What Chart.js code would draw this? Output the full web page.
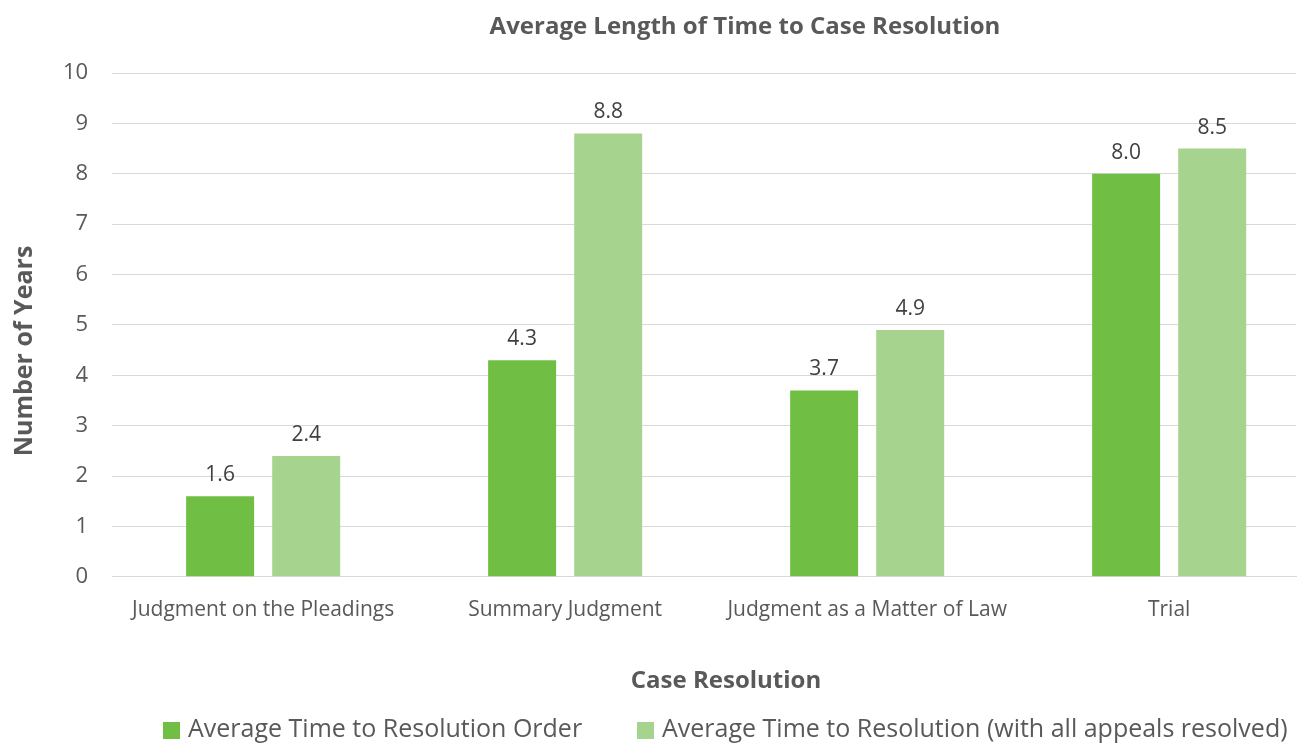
<!DOCTYPE html>
<html>
<head>
<meta charset="utf-8">
<script src="https://cdn.jsdelivr.net/npm/chart.js@4"></script>
<style>
  html, body { margin: 0; padding: 0; background: #fff; }
  #wrap { width: 1312px; height: 744px; }
</style>
</head>
<body>
<div id="wrap"><canvas id="c" width="1312" height="744"></canvas></div>
<script>
const categories = ["Judgment on the Pleadings", "Summary Judgment", "Judgment as a Matter of Law", "Trial"];
const resolutionOrder = [1.6, 4.3, 3.7, 8.0];
const withAppeals = [2.4, 8.8, 4.9, 8.5];
const seriesNames = ["Average Time to Resolution Order", "Average Time to Resolution (with all appeals resolved)"];
const yTicks = [0, 1, 2, 3, 4, 5, 6, 7, 8, 9, 10];
const chartTitle = "Average Length of Time to Case Resolution";
const xTitle = "Case Resolution";
const yTitle = "Number of Years";

const FONT = "'Open Sans', 'Liberation Sans', sans-serif";
const TEXT = "#595959";
const COLORS = ['#70BF44', '#A6D48E'];

const labelPlugin = {
  id: 'barLabels',
  afterDatasetsDraw(chart) {
    const ctx = chart.ctx;
    ctx.save();
    ctx.font = "21px " + FONT;
    ctx.fillStyle = "#404040";
    ctx.textAlign = "center";
    ctx.textBaseline = "middle";
    chart.data.datasets.forEach((ds, i) => {
      chart.getDatasetMeta(i).data.forEach((bar, j) => {
        ctx.fillText(ds.data[j].y.toFixed(1), bar.x, bar.y - 21);
      });
    });
    ctx.restore();
  }
};

const textPlugin = {
  id: 'texts',
  afterDraw(chart) {
    const ctx = chart.ctx;
    ctx.save();
    ctx.fillStyle = TEXT;
    ctx.textBaseline = "middle";
    ctx.textAlign = "center";
    ctx.font = "bold 24px " + FONT;
    ctx.fillText(chartTitle, 745, 27);
    ctx.fillText(xTitle, 726, 681);
    ctx.save();
    ctx.translate(25, 351);
    ctx.rotate(-Math.PI / 2);
    ctx.font = "bold 25px " + FONT;
    ctx.fillText(yTitle, 0, 0);
    ctx.restore();
    ctx.textAlign = "left";
    ctx.font = "25px " + FONT;
    const items = [{ box: 163, text: 188 }, { box: 637, text: 662 }];
    chart.data.datasets.forEach((ds, i) => {
      ctx.fillStyle = ds.backgroundColor;
      ctx.fillRect(items[i].box, 722, 17, 17);
      ctx.fillStyle = TEXT;
      ctx.fillText(ds.label, items[i].text, 730);
    });
    ctx.restore();
  }
};

const toPoints = arr => arr.map((v, i) => ({ x: i, y: v }));

new Chart(document.getElementById('c'), {
  type: 'bar',
  data: {
    datasets: [
      { label: seriesNames[0], data: toPoints(resolutionOrder), backgroundColor: COLORS[0],
        categoryPercentage: 0.57, barPercentage: 0.79 },
      { label: seriesNames[1], data: toPoints(withAppeals), backgroundColor: COLORS[1],
        categoryPercentage: 0.57, barPercentage: 0.79 }
    ]
  },
  options: {
    responsive: false,
    animation: false,
    devicePixelRatio: 1,
    layout: { padding: { left: 39, right: 16, top: 73, bottom: 100 } },
    plugins: {
      title: { display: false },
      legend: { display: false },
      tooltip: { enabled: false }
    },
    scales: {
      x: {
        type: 'linear',
        offset: false,
        min: -0.5,
        max: 3.42,
        afterBuildTicks(axis) { axis.ticks = categories.map((c, i) => ({ value: i })); },
        grid: { display: false, drawTicks: false },
        border: { color: '#D9D9D9' },
        ticks: { color: TEXT, font: { family: FONT, size: 21 }, padding: 21, maxRotation: 0,
                 autoSkip: false, callback: v => categories[v] }
      },
      y: {
        min: 0, max: 10,
        afterBuildTicks(axis) { axis.ticks = yTicks.map(v => ({ value: v })); },
        grid: { color: '#D9D9D9', drawTicks: false },
        border: { display: false },
        ticks: { color: TEXT, font: { family: FONT, size: 22 }, padding: 24 }
      }
    }
  },
  plugins: [labelPlugin, textPlugin]
});
</script>
</body>
</html>
